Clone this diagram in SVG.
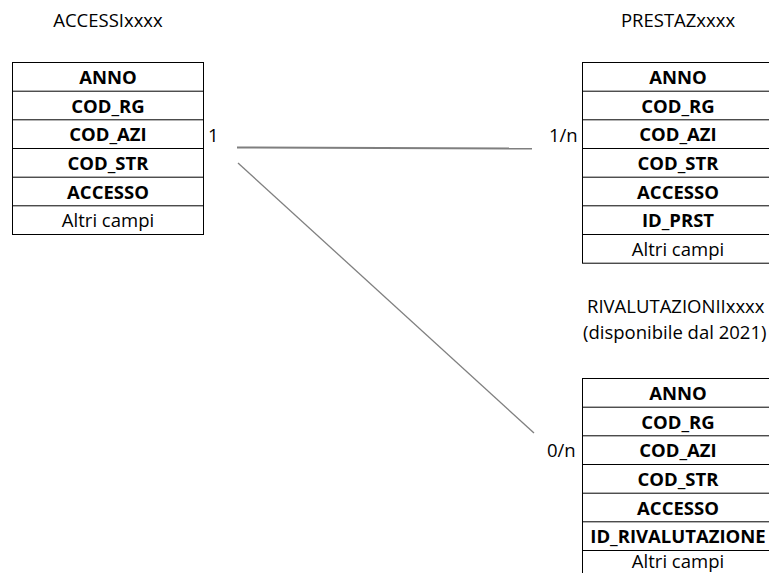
<svg xmlns="http://www.w3.org/2000/svg" width="769" height="573" viewBox="0 0 769 573">
<style>
text{font-family:"Open Sans","Noto Sans","Liberation Sans",sans-serif;font-size:18.5px;fill:#000}
.t{text-anchor:middle}
.b{font-weight:bold}
.box{fill:#fff;stroke:#000;stroke-width:1}
.row{stroke:#000;stroke-width:1}
.conn{stroke:#7f7f7f;fill:none}
</style>
<rect width="769" height="573" fill="#fff"/>
<g id="accessi">
<text class="t" x="108" y="26.5">ACCESSIxxxx</text>
<rect class="box" x="12.5" y="62.5" width="191" height="172"/>
<path class="row" d="M12.5 91.2H203.5M12.5 119.8H203.5M12.5 148.5H203.5M12.5 177.2H203.5M12.5 205.8H203.5"/>
<text class="t b" x="108" y="84">ANNO</text>
<text class="t b" x="108" y="112.7">COD_RG</text>
<text class="t b" x="108" y="141.3">COD_AZI</text>
<text class="t b" x="108" y="170">COD_STR</text>
<text class="t b" x="108" y="198.7">ACCESSO</text>
<text class="t" x="108" y="227.3">Altri campi</text>
</g>
<g id="prestaz">
<text class="t" x="678" y="26.5">PRESTAZxxxx</text>
<rect class="box" x="582.5" y="62.5" width="192" height="200.7"/>
<path class="row" d="M582.5 91.2H775M582.5 119.8H775M582.5 148.5H775M582.5 177.2H775M582.5 205.8H775M582.5 234.5H775"/>
<text class="t b" x="678" y="84">ANNO</text>
<text class="t b" x="678" y="112.7">COD_RG</text>
<text class="t b" x="678" y="141.3">COD_AZI</text>
<text class="t b" x="678" y="170">COD_STR</text>
<text class="t b" x="678" y="198.7">ACCESSO</text>
<text class="t b" x="678" y="227.3">ID_PRST</text>
<text class="t" x="678" y="256">Altri campi</text>
</g>
<g id="rivalutazioni">
<text x="587" y="313">RIVALUTAZIONIIxxxx</text>
<text x="583" y="339">(disponibile dal 2021)</text>
<rect class="box" x="582.5" y="378.5" width="192" height="220"/>
<path class="row" d="M582.5 407.2H775M582.5 435.8H775M582.5 464.5H775M582.5 493.2H775M582.5 521.8H775M582.5 550.5H775"/>
<text class="t b" x="678" y="400">ANNO</text>
<text class="t b" x="678" y="428.7">COD_RG</text>
<text class="t b" x="678" y="457.3">COD_AZI</text>
<text class="t b" x="678" y="486">COD_STR</text>
<text class="t b" x="678" y="514.7">ACCESSO</text>
<text class="t b" x="678" y="543.3">ID_RIVALUTAZIONE</text>
<text class="t" x="678" y="568">Altri campi</text>
</g>
<g id="connectors">
<line class="conn" x1="237" y1="147.5" x2="532" y2="148.5" stroke-width="2"/>
<line class="conn" x1="238" y1="163" x2="534" y2="433" stroke-width="1.3"/>
<text x="208" y="142">1</text>
<text x="549" y="142">1/n</text>
<text x="547" y="457">0/n</text>
</g>
</svg>
